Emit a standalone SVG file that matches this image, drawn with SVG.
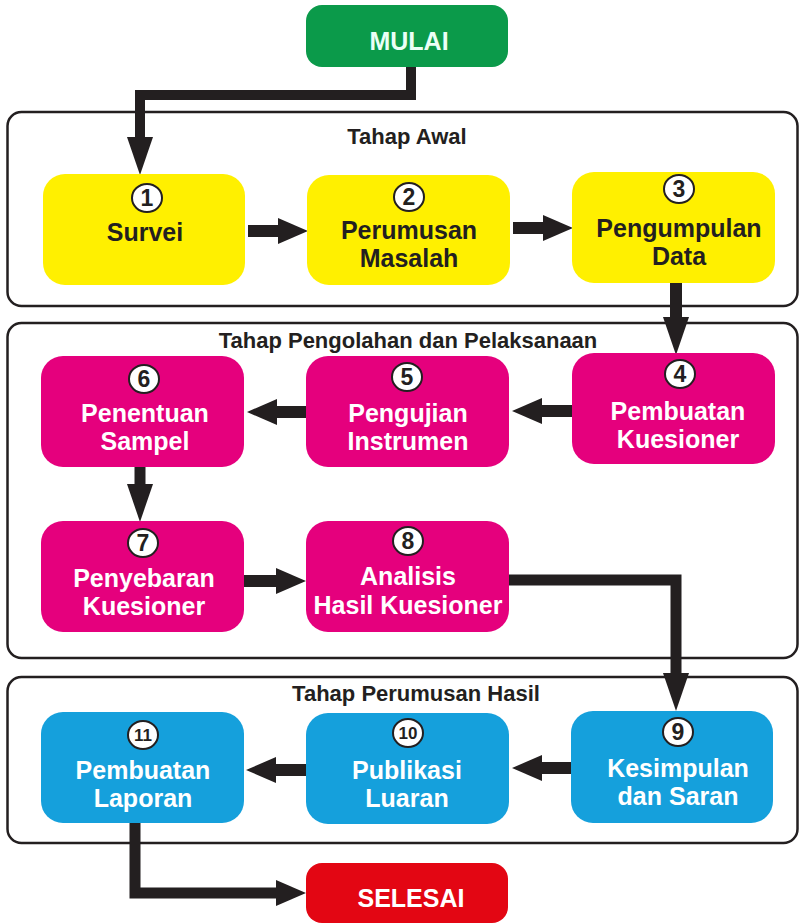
<svg xmlns="http://www.w3.org/2000/svg" width="801" height="924" viewBox="0 0 801 924">
<defs>
<style>
.sec{fill:none;stroke:#231f20;stroke-width:2.5}
.lab{font-family:"Liberation Sans",Arial,sans-serif;font-weight:bold;font-size:22px;fill:#231f20;text-anchor:middle}
.t{font-family:"Liberation Sans",Arial,sans-serif;font-weight:bold;font-size:25px;text-anchor:middle}
.dk{fill:#231f20}
.lt{fill:#ffffff}
.y{fill:#fff000}
.m{fill:#e5007d}
.b{fill:#15a0dc}
.c{fill:#ffffff;stroke:#231f20;stroke-width:2}
.n{font-family:"Liberation Sans",Arial,sans-serif;font-weight:bold;font-size:23px;fill:#231f20;text-anchor:middle}
.n2{font-size:17px}
.con{fill:none;stroke:#231f20;stroke-linejoin:miter}
</style>
<marker id="ah" markerUnits="userSpaceOnUse" markerWidth="30" markerHeight="26" viewBox="0 0 30 26" refX="0" refY="13" orient="auto">
<path d="M0,0 L30,13 L0,26 z" fill="#231f20"/>
</marker>
<marker id="av" markerUnits="userSpaceOnUse" markerWidth="38" markerHeight="26" viewBox="0 0 38 26" refX="0" refY="13" orient="auto">
<path d="M0,0 L38,13 L0,26 z" fill="#231f20"/>
</marker>
</defs>
<rect width="801" height="924" fill="#ffffff"/>

<g id="sections">
<rect class="sec" x="7.5" y="112" width="790" height="194" rx="14"/>
<text class="lab" x="407" y="144">Tahap Awal</text>
<rect class="sec" x="7.5" y="323" width="790" height="335" rx="14"/>
<text class="lab" x="408" y="348">Tahap Pengolahan dan Pelaksanaan</text>
<rect class="sec" x="7.5" y="677" width="790" height="166" rx="14"/>
<text class="lab" x="416" y="701">Tahap Perumusan Hasil</text>
</g>

<g id="connectors">
<path class="con" stroke-width="10" d="M411,67 V95 H140 V137" marker-end="url(#av)"/>
<path class="con" stroke-width="12" d="M248,231 H278" marker-end="url(#ah)"/>
<path class="con" stroke-width="12" d="M513,228 H543" marker-end="url(#ah)"/>
<path class="con" stroke-width="12" d="M676,283 V317" marker-end="url(#av)"/>
<path class="con" stroke-width="12" d="M572,411 H542" marker-end="url(#ah)"/>
<path class="con" stroke-width="12" d="M306,412 H277" marker-end="url(#ah)"/>
<path class="con" stroke-width="11" d="M140,467 V484" marker-end="url(#av)"/>
<path class="con" stroke-width="12" d="M244,581 H276" marker-end="url(#ah)"/>
<path class="con" stroke-width="11" d="M509,580 H676 V673" marker-end="url(#av)"/>
<path class="con" stroke-width="12" d="M571,768 H542" marker-end="url(#ah)"/>
<path class="con" stroke-width="12" d="M306,770 H276" marker-end="url(#ah)"/>
<path class="con" stroke-width="11" d="M135,823 V893 H276" marker-end="url(#ah)"/>
</g>

<g id="mulai">
<rect x="306" y="5" width="202" height="62" rx="16" fill="#0b9a4a"/>
<text class="t" x="409" y="50" fill="#eafff6">MULAI</text>
</g>

<g id="node1">
<rect class="y" x="43" y="174" width="202" height="111" rx="22"/>
<ellipse class="c" cx="147" cy="198" rx="15" ry="14"/>
<text class="n" x="147" y="206">1</text>
<text class="t dk" x="145" y="241">Survei</text>
</g>
<g id="node2">
<rect class="y" x="307" y="175" width="203" height="110" rx="22"/>
<ellipse class="c" cx="409" cy="197" rx="15" ry="14"/>
<text class="n" x="409" y="205">2</text>
<text class="t dk" x="409" y="239">Perumusan</text>
<text class="t dk" x="409" y="267">Masalah</text>
</g>
<g id="node3">
<rect class="y" x="572" y="172" width="203" height="111" rx="22"/>
<ellipse class="c" cx="679" cy="189" rx="15" ry="14"/>
<text class="n" x="679" y="197">3</text>
<text class="t dk" x="679" y="237">Pengumpulan</text>
<text class="t dk" x="679" y="265">Data</text>
</g>
<g id="node4">
<rect class="m" x="572" y="353" width="203" height="111" rx="22"/>
<ellipse class="c" cx="680" cy="374" rx="15" ry="14"/>
<text class="n" x="680" y="382">4</text>
<text class="t lt" x="678" y="420">Pembuatan</text>
<text class="t lt" x="678" y="448">Kuesioner</text>
</g>
<g id="node5">
<rect class="m" x="306" y="356" width="203" height="111" rx="22"/>
<ellipse class="c" cx="407" cy="377" rx="15" ry="14"/>
<text class="n" x="407" y="385">5</text>
<text class="t lt" x="408" y="422">Pengujian</text>
<text class="t lt" x="408" y="450">Instrumen</text>
</g>
<g id="node6">
<rect class="m" x="41" y="356" width="203" height="111" rx="22"/>
<ellipse class="c" cx="144" cy="379" rx="15" ry="14"/>
<text class="n" x="144" y="387">6</text>
<text class="t lt" x="145" y="422">Penentuan</text>
<text class="t lt" x="145" y="450">Sampel</text>
</g>
<g id="node7">
<rect class="m" x="41" y="521" width="203" height="111" rx="22"/>
<ellipse class="c" cx="143" cy="543" rx="15" ry="14"/>
<text class="n" x="143" y="551">7</text>
<text class="t lt" x="144" y="587">Penyebaran</text>
<text class="t lt" x="144" y="615">Kuesioner</text>
</g>
<g id="node8">
<rect class="m" x="306" y="521" width="203" height="111" rx="22"/>
<ellipse class="c" cx="408" cy="541" rx="15" ry="14"/>
<text class="n" x="408" y="549">8</text>
<text class="t lt" x="408" y="585">Analisis</text>
<text class="t lt" x="408" y="614">Hasil Kuesioner</text>
</g>
<g id="node9">
<rect class="b" x="571" y="711" width="202" height="112" rx="22"/>
<ellipse class="c" cx="678" cy="732" rx="15" ry="14"/>
<text class="n" x="678" y="740">9</text>
<text class="t lt" x="678" y="777">Kesimpulan</text>
<text class="t lt" x="678" y="805">dan Saran</text>
</g>
<g id="node10">
<rect class="b" x="306" y="713" width="203" height="111" rx="22"/>
<ellipse class="c" cx="408" cy="733" rx="15" ry="14"/>
<text class="n n2" x="408" y="739">10</text>
<text class="t lt" x="407" y="779">Publikasi</text>
<text class="t lt" x="407" y="807">Luaran</text>
</g>
<g id="node11">
<rect class="b" x="41" y="712" width="203" height="111" rx="22"/>
<ellipse class="c" cx="143" cy="735" rx="15" ry="14"/>
<text class="n n2" x="143" y="741">11</text>
<text class="t lt" x="143" y="779">Pembuatan</text>
<text class="t lt" x="143" y="807">Laporan</text>
</g>

<g id="selesai">
<rect x="306" y="863" width="202" height="60" rx="16" fill="#e30613"/>
<text class="t" x="411" y="907" fill="#ffffff">SELESAI</text>
</g>
</svg>
